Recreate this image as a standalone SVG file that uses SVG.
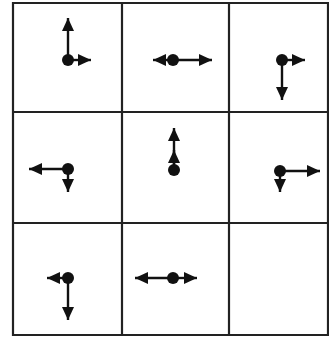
<svg xmlns="http://www.w3.org/2000/svg" width="329" height="341" viewBox="0 0 329 341">
<defs>
<marker id="ah" markerUnits="userSpaceOnUse" markerWidth="13" markerHeight="12" refX="13" refY="6" orient="auto">
<path d="M0,0 L13,6 L0,12 z" fill="#111"/>
</marker>
<style>
.grid{fill:none;stroke:#222;stroke-width:2.2}
.arr{stroke:#111;stroke-width:2.4;marker-end:url(#ah)}
.dot{fill:#111}
</style>
</defs>
<rect width="329" height="341" fill="#fff"/>
<g id="grid">
<path class="grid" d="M13,3 L328,3 L328,335 L13,335 Z M122,3 L122,335 M229,3 L229,335 M13,112 L328,112 M13,223 L328,223"/>
</g>
<g id="cell-1-1">
<line class="arr" x1="68" y1="60" x2="68" y2="18"/>
<line class="arr" x1="68" y1="60" x2="91" y2="60"/>
<circle class="dot" cx="68" cy="60" r="6"/>
</g>
<g id="cell-1-2">
<line class="arr" x1="173" y1="60" x2="153" y2="60"/>
<line class="arr" x1="173" y1="60" x2="212" y2="60"/>
<circle class="dot" cx="173" cy="60" r="6"/>
</g>
<g id="cell-1-3">
<line class="arr" x1="282" y1="60" x2="305" y2="60"/>
<line class="arr" x1="282" y1="60" x2="282" y2="100"/>
<circle class="dot" cx="282" cy="60" r="6"/>
</g>
<g id="cell-2-1">
<line class="arr" x1="68" y1="169" x2="29" y2="169"/>
<line class="arr" x1="68" y1="169" x2="68" y2="192"/>
<circle class="dot" cx="68" cy="169" r="6"/>
</g>
<g id="cell-2-2">
<line class="arr" x1="174" y1="170" x2="174" y2="128"/>
<line class="arr" x1="174" y1="170" x2="174" y2="150"/>
<circle class="dot" cx="174" cy="170" r="6"/>
</g>
<g id="cell-2-3">
<line class="arr" x1="280" y1="171" x2="320" y2="171"/>
<line class="arr" x1="280" y1="171" x2="280" y2="192"/>
<circle class="dot" cx="280" cy="171" r="6"/>
</g>
<g id="cell-3-1">
<line class="arr" x1="68" y1="278" x2="47" y2="278"/>
<line class="arr" x1="68" y1="278" x2="68" y2="320"/>
<circle class="dot" cx="68" cy="278" r="6"/>
</g>
<g id="cell-3-2">
<line class="arr" x1="173" y1="278" x2="135" y2="278"/>
<line class="arr" x1="173" y1="278" x2="197" y2="278"/>
<circle class="dot" cx="173" cy="278" r="6"/>
</g>
<g id="cell-3-3"/>
</svg>
